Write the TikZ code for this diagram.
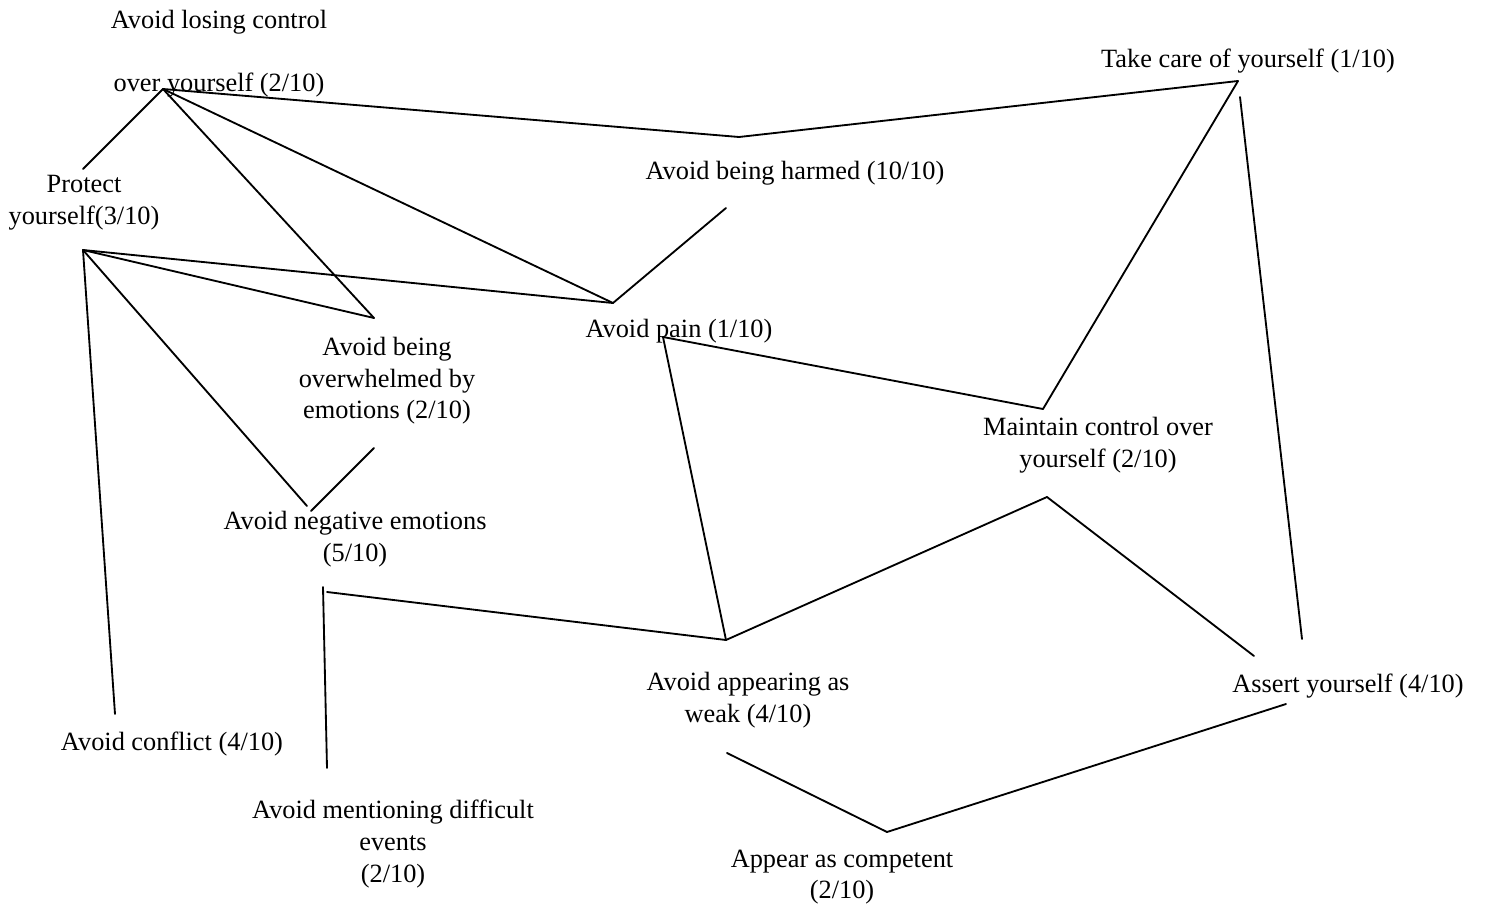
\documentclass[tikz,border=0pt]{standalone}
\usepackage{fontspec}
\setmainfont{Liberation Serif}
\tikzset{
  concept/.style={align=center, inner sep=0pt, yshift=-0.06cm, font=\fontsize{15}{18}\selectfont},
  link/.style={line width=1.05pt, line cap=round}
}
\begin{document}
\begin{tikzpicture}[x=0.02cm, y=-0.02cm]
        \useasboundingbox (0,0) rectangle (1488,906);

        % Draw the labels
        \node[concept] (losing) at (219,51) {Avoid losing control\\[18pt]over yourself (2/10)};
        \node[concept] (protect) at (84,200) {Protect\\yourself(3/10)};
        \node[concept] (harmed) at (795,170) {Avoid being harmed (10/10)};
        \node[concept] (pain) at (679,328) {Avoid pain (1/10)};
        \node[concept] (takecare) at (1248,58) {Take care of yourself (1/10)};
        \node[concept] (overwhelmed) at (387,378) {Avoid being\\overwhelmed by\\emotions (2/10)};
        \node[concept] (negative) at (355,536) {Avoid negative emotions\\(5/10)};
        \node[concept] (maintain) at (1098,442) {Maintain control over\\yourself (2/10)};
        \node[concept] (assert) at (1348,683) {Assert yourself (4/10)};
        \node[concept] (weak) at (748,697) {Avoid appearing as\\weak (4/10)};
        \node[concept] (competent) at (842,874) {Appear as competent\\(2/10)};
        \node[concept] (conflict) at (172,741) {Avoid conflict (4/10)};
        \node[concept] (mentioning) at (393,841) {Avoid mentioning difficult\\events\\(2/10)};

        % End points of the links
        \coordinate (losing-b) at (163,89);
        \coordinate (protect-t) at (83,169);
        \coordinate (protect-b) at (83,250);
        \coordinate (harmed-t) at (739,137);
        \coordinate (harmed-b) at (726,208);
        \coordinate (pain-t) at (613,303);
        \coordinate (pain-r) at (663,337);
        \coordinate (takecare-a) at (1238,81);
        \coordinate (takecare-b) at (1240,97);
        \coordinate (overwhelmed-t) at (374,318);
        \coordinate (overwhelmed-b) at (374,448);
        \coordinate (negative-ta) at (307,506);
        \coordinate (negative-tb) at (311,511);
        \coordinate (negative-ba) at (323,587);
        \coordinate (negative-bb) at (327,592);
        \coordinate (mentioning-t) at (327,768);
        \coordinate (conflict-t) at (115,714);
        \coordinate (weak-t) at (726,640);
        \coordinate (weak-b) at (727,753);
        \coordinate (maintain-t) at (1043,409);
        \coordinate (maintain-b) at (1047,497);
        \coordinate (assert-ta) at (1254,656);
        \coordinate (assert-tb) at (1302,639);
        \coordinate (assert-b) at (1286,704);
        \coordinate (competent-t) at (887,832);

        % Draw the links
        \foreach \a/\b in {losing-b/protect-t, losing-b/overwhelmed-t, losing-b/pain-t,
                losing-b/harmed-t, harmed-t/takecare-a, harmed-b/pain-t,
                protect-b/pain-t, protect-b/overwhelmed-t, protect-b/negative-ta,
                protect-b/conflict-t, overwhelmed-b/negative-tb,
                negative-bb/weak-t, negative-ba/mentioning-t,
                pain-r/weak-t, pain-r/maintain-t, maintain-t/takecare-a,
                takecare-b/assert-tb, weak-t/maintain-b, maintain-b/assert-ta,
                weak-b/competent-t, competent-t/assert-b} {
            \draw[link] (\a) -- (\b);
        }
\end{tikzpicture}
\end{document}
